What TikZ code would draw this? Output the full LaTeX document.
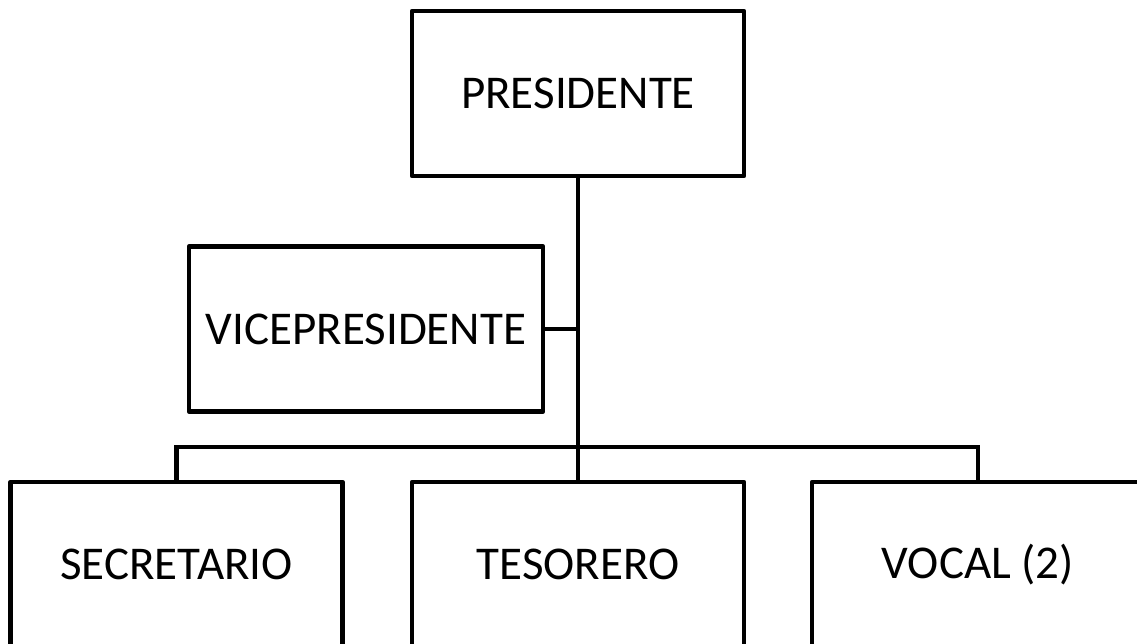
\documentclass[tikz,border=0pt]{standalone}
\usepackage{fontspec}
\setmainfont{Carlito}
\begin{document}
\begin{tikzpicture}[x=1pt,y=-1pt,
  orgbox/.style={draw=black, line width=4.5pt, line join=round, fill=white,
    minimum width=332pt, minimum height=165pt, inner sep=0pt,
    font=\fontsize{47}{56}\selectfont},
  link/.style={draw=black, line width=4.5pt}]
\useasboundingbox (0,0) rectangle (1137,643);
\clip (0,0) rectangle (1137,643);
\node[orgbox] (pres) at (578,93.5) {PRESIDENTE};
\node[orgbox, minimum width=354pt] (vice) at (366,329) {VICEPRESIDENTE};
\node[orgbox] (secr) at (176.5,564.5) {SECRETARIO};
\node[orgbox] (teso) at (578,564.5) {TESORERO};
\node[orgbox] (voca) at (978,564.5) {VOCAL (2)};
\coordinate (bar) at (578,447);
\draw[link] (pres.south) -- (teso.north);
\draw[link] (vice.east) -- (vice.east -| pres.south);
\draw[link] (secr.north) |- (bar) -| (voca.north);
\end{tikzpicture}
\end{document}
